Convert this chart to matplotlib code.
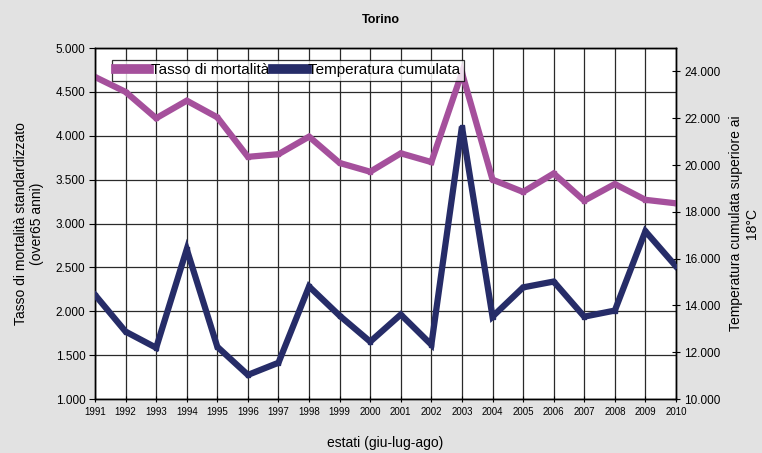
import matplotlib
matplotlib.use('Agg')
import matplotlib.pyplot as plt

plt.rcParams['font.family'] = ['Liberation Sans', 'DejaVu Sans']

anni = list(range(1991, 2011))
mortalita = [4.67, 4.50, 4.20, 4.40, 4.21, 3.76, 3.79, 3.99, 3.69, 3.59,
             3.80, 3.70, 4.72, 3.50, 3.36, 3.57, 3.26, 3.45, 3.27, 3.23]
temperatura = [14450, 12880, 12190, 16400, 12230, 11030, 11550, 14810, 13560, 12450,
               13610, 12320, 21640, 13520, 14770, 15020, 13520, 13780, 17170, 15670]
left_ticks = [1.0, 1.5, 2.0, 2.5, 3.0, 3.5, 4.0, 4.5, 5.0]
right_ticks = [10000, 12000, 14000, 16000, 18000, 20000, 22000, 24000]


def fmt_it(v, dec):
    s = f"{v:,.{dec}f}"
    return s.replace(',', 'X').replace('.', ',').replace('X', '.')


bg = '#e2e2e2'
viola = '#a5509c'
blu = '#262c68'

fig = plt.figure(figsize=(7.62, 4.53), dpi=100, facecolor=bg)
ax = fig.add_axes([0.1247, 0.1192, 0.7624, 0.7748])
ax.set_facecolor('white')
ax2 = ax.twinx()

l1, = ax.plot(anni, mortalita, color=viola, lw=4.5, marker='s', ms=3.5,
              solid_joinstyle='miter', zorder=3, label='Tasso di mortalità')
l2, = ax2.plot(anni, temperatura, color=blu, lw=4.5, marker='s', ms=3.5,
               solid_joinstyle='miter', zorder=3, label='Temperatura cumulata')

ax.set_xlim(1991, 2010)
ax.set_ylim(1.0, 5.0)
ax2.set_ylim(10000, 25000)

ax.set_xticks(anni)
ax.set_xticklabels([str(a) for a in anni], fontsize=7)
ax.set_yticks(left_ticks)
ax.set_yticklabels([f"{v:.3f}" for v in left_ticks], fontsize=8.5)
ax2.set_yticks(right_ticks)
ax2.set_yticklabels([fmt_it(v, 0) for v in right_ticks], fontsize=8.5)

ax.grid(True, color='#2a2a2a', lw=0.9)
ax.set_axisbelow(True)
ax.tick_params(axis='x', direction='inout', length=5, pad=3)
ax.tick_params(axis='y', direction='out', length=4, pad=3)
ax2.tick_params(axis='y', direction='inout', length=6, pad=3)

for a in (ax, ax2):
    for sp in a.spines.values():
        sp.set_color('black')
        sp.set_linewidth(1.0)

ax.set_ylabel('Tasso di mortalità standardizzato\n(over65 anni)', fontsize=10, labelpad=8)
ax2.set_ylabel('Temperatura cumulata superiore ai\n18°C', fontsize=10, labelpad=6)
ax.set_xlabel('estati (giu-lug-ago)', fontsize=10, labelpad=14)
fig.suptitle('Torino', fontsize=9, fontweight='bold', y=0.97)

leg = ax2.legend(handles=[l1, l2], loc='upper left', bbox_to_anchor=(0.029, 0.967),
                 ncol=2, fontsize=11, frameon=True, fancybox=False,
                 handlelength=2.2, handletextpad=0.1, columnspacing=0.25,
                 borderpad=0.25, borderaxespad=0.0)
leg.get_frame().set_edgecolor('black')
leg.get_frame().set_linewidth(0.9)
for h in leg.legend_handles:
    h.set_marker('')
    h.set_linewidth(7)

fig.savefig('out.png', dpi=100, facecolor=bg)
